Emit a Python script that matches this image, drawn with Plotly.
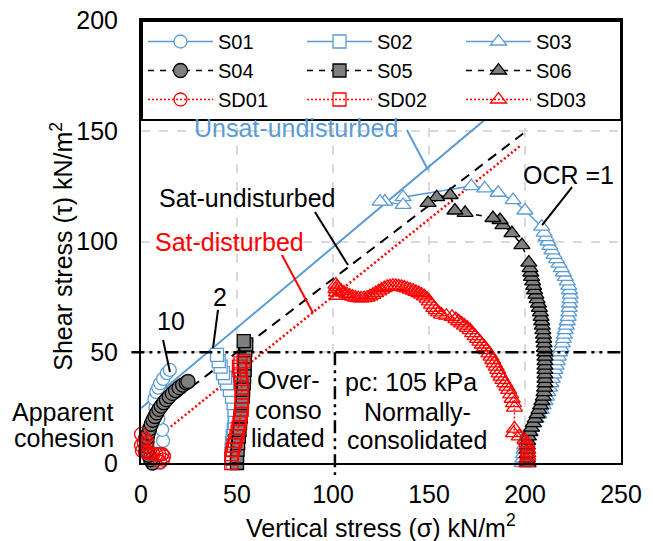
import plotly.graph_objects as go

FONT = "Liberation Sans, Arial, sans-serif"
BLUE = "#5B9BD5"
RED = "#FF0000"
GREY = "#7F7F7F"

# ---------------- data (sigma = vertical stress, tau = shear stress) ----------------
s01_x = [10, 11, 11.5, 11, 9, 7.5, 7, 8, 9, 10, 11.5, 13.5, 15]
s01_y = [0, 4, 10, 15, 20, 25, 29, 32, 34, 36, 38, 40.6, 42]

s02_x = [48, 47.5, 47.2, 47.4, 47.8, 48.3, 48.8, 49, 48.7, 48.2, 47.4, 46.3, 44.8, 43.8, 42.7, 41.5, 40.5, 39.6]
s02_y = [0, 3, 6, 9, 12, 15, 18, 21, 24, 27, 30, 33, 36, 38.5, 40.6, 43.5, 46, 48.8]

s03_x = [198.5, 198.8, 199.2, 199.5, 199.8, 200.3, 201, 202, 203.2, 204.5,
         205.8, 207.2, 208.5, 209.5, 210.4, 211.2, 211.9, 212.7, 213.5, 214.2,
         215, 215.6, 216.2, 216.8, 217.4, 218, 218.8, 219.5, 220, 220.5,
         221, 221.5, 222, 222.5, 222.8, 223, 223.2, 223.4, 223.5, 223.2,
         222.8, 222, 221, 220, 218.9, 217.7, 216.4, 215.1, 214, 213,
         212, 211, 210, 208.7,
         200, 193.8, 186, 179, 172, 136.5, 136.5, 127, 124.5]
s03_y = [0, 2, 4, 6, 8, 10, 12, 14, 16, 18,
         20, 22, 24, 26, 28, 30, 32, 34, 36, 38,
         40, 42, 44, 46, 48, 50, 52, 54, 56, 58,
         60, 62, 64, 66, 68, 70, 72, 74, 76, 78,
         80, 82, 84, 86, 88, 90, 92, 94, 96, 98,
         100, 102, 104, 106.7,
         114, 118.7, 122, 124, 125, 120, 116.5, 118, 118]

s04_x = [6, 5, 4, 3.2, 3, 3, 3.3, 3.8, 4.5, 5.3, 6.2, 7.2, 8.2, 9.3, 10.5, 11.8,
         13.2, 14.7, 16.3, 18, 19.8, 21.7, 23.5, 24.5]
s04_y = [0, 1.5, 3.5, 5.5, 7.5, 9.5, 11.5, 13.5, 15.5, 17.5, 19.3, 21, 22.6, 24.2,
         25.7, 27.2, 28.6, 30, 31.4, 32.7, 34, 35.2, 36.2, 36.8]

s05_x = [50, 50, 50.3, 50.6, 51, 51.3, 51.6, 52, 52.3, 52.6, 53, 53.2, 53.5, 53.7,
         54, 54, 54, 54.3, 54.8, 53.5]
s05_y = [0, 3, 6, 9, 12, 15, 18, 21, 24, 27, 30, 33, 36, 39, 42, 45, 48, 51, 53.5, 55]

s06_x = [201.6, 201.2, 201, 201, 201.2, 201.4, 201.8, 202.6, 203.4, 204.3,
         205.3, 206.3, 207.3, 208.1, 208.8, 209.5, 209.9, 210.2, 210.4, 210.4,
         210.4, 210.4, 210.4, 210.4, 210.4, 210.3, 210.1, 210, 209.8, 209.6,
         209.3, 209, 208.7, 208.4, 208, 207.5, 207, 206.3, 205.7, 205,
         204.5, 204, 203.4, 203, 202.6, 202,
         198.4, 193.2, 188.5, 187, 183.3, 168.8, 163.5, 161, 154, 149.5]
s06_y = [0, 2, 4, 6, 8, 10, 12, 14, 16, 18,
         20, 22, 24, 26, 28, 30, 32, 34, 36, 38,
         40, 42, 44, 46, 48, 50, 52, 54, 56, 58,
         60, 62, 64, 66, 68, 70, 72, 74, 76, 78,
         80, 82, 84, 86, 88, 90.5,
         98.4, 103.8, 107.4, 109.7, 110.6, 112.9, 114, 121, 120, 117.4]

sd01_x = [10, 11.5, 12, 11, 9.5, 8, 6.5, 5, 3.5, 2, 0.5, -0.5, 0, 1.5, 3.5, 2, 0]
sd01_y = [0.5, 1.5, 3, 4, 4, 4, 4, 4.2, 4.5, 5, 5.5, 6.5, 8, 9, 9.5, 11, 13]

sd02_x = [47, 47, 47.3, 47.8, 48.3, 49, 49.7, 50.3, 50.8, 51.3, 51.7, 52, 52.3,
          52.5, 52.5, 52.5, 52.5, 52.5, 52.3, 52, 51.7, 51.3, 51, 51.8, 53.5]
sd02_y = [0, 2, 4, 6, 8, 10, 12, 14, 16, 18, 20, 22, 24, 26, 28, 30, 32, 34, 36,
          38, 40, 42, 43.5, 45, 46]

sd03_x = [201, 201, 201.5, 201.5, 201.5, 201, 201, 200, 197, 194, 194.5,
          194.5, 194, 193.3, 192.5, 191.5, 190.6, 189.5, 188.5, 187.5, 186.5,
          185.8, 185, 184, 183.2, 182.3, 181.2, 180, 179, 177.8, 176.5,
          175.3, 174, 172.7, 171.4, 170, 168.5, 167, 165.5, 164, 162,
          159, 156.5, 155, 153.8, 152.5, 151.3, 150.2, 149, 147.6, 146.2,
          144.7, 143.2, 141.7, 140.2, 138.7, 137.2, 135.7, 134.2, 132.7, 131.2,
          129.7, 128.2, 126.7, 125.2, 123.7, 122.2, 120.7, 119.2, 117.7, 116.2,
          114.7, 113.2, 111.7, 110.2, 108.7, 107.2, 105.7, 104.2, 103, 102,
          101.5, 101.5, 101.8, 102.3]
sd03_y = [0, 1.5, 3, 4.5, 6, 7.5, 9, 10.5, 12, 13.5, 15.5,
          25, 27, 29, 31, 33, 34.5, 36, 37.5, 39, 40.5,
          42, 43.5, 45, 46.5, 48, 49.5, 51, 52.3, 53.5, 54.8,
          56, 57.3, 58.6, 60, 61, 62, 63, 64, 65, 66,
          66.5, 67, 68, 69, 70, 71.5, 73, 74.2, 75.2, 76,
          76.7, 77.3, 77.8, 78.3, 78.8, 79.2, 79.5, 79.8, 80, 80,
          79.8, 79.5, 79, 78.3, 77.5, 76.7, 75.9, 75.2, 74.7, 74.4,
          74.3, 74.4, 74.7, 75.1, 75.6, 76.2, 76.9, 77.7, 78.6, 79.5,
          80.5, 78.5, 77, 75.5]

# failure envelopes (end points)
unsat_x = [0, 200]
unsat_y = [24.7, 170.2]
satund_x = [5, 200]
satund_y = [20.2, 149.4]
satdis_x = [10, 198]
satdis_y = [12.6, 143.5]

x_ticks = [0, 50, 100, 150, 200, 250]
y_ticks = [0, 50, 100, 150, 200]

# ---------------- figure ----------------
fig = go.Figure()

env_specs = [
    (unsat_x, unsat_y, dict(color=BLUE, width=2)),
    (satund_x, satund_y, dict(color="black", width=2, dash="10px,7px")),
    (satdis_x, satdis_y, dict(color=RED, width=2.5, dash="2px,2.5px")),
]
for ex, ey, ln in env_specs:
    fig.add_trace(go.Scatter(x=ex, y=ey, mode="lines", line=ln,
                             showlegend=False, hoverinfo="skip"))

series = [
    ("S01", s01_x, s01_y, "circle", BLUE, "white", BLUE, None, 13),
    ("S02", s02_x, s02_y, "square", BLUE, "white", BLUE, None, 13),
    ("S03", s03_x, s03_y, "triangle-up", BLUE, "white", BLUE, None, 14),
    ("S04", s04_x, s04_y, "circle", "black", GREY, "black", "6px,6px", 14),
    ("S05", s05_x, s05_y, "square", "black", GREY, "black", "6px,6px", 13),
    ("S06", s06_x, s06_y, "triangle-up", "black", GREY, "black", "6px,6px", 14),
    ("SD01", sd01_x, sd01_y, "circle-open", RED, RED, RED, "2px,2px", 13),
    ("SD02", sd02_x, sd02_y, "square-open", RED, RED, RED, "2px,2px", 13),
    ("SD03", sd03_x, sd03_y, "triangle-up-open", RED, RED, RED, "2px,2px", 14),
]
for name, sx, sy, sym, lc, fc, mc, dash, size in series:
    fig.add_trace(go.Scatter(
        x=sx, y=sy, name=name, mode="lines+markers",
        line=dict(color=lc, width=1.5, dash=dash),
        marker=dict(symbol=sym, size=size, color=fc,
                    line=dict(color=mc, width=1.3)),
        cliponaxis=False,
    ))

# ---------------- shapes ----------------
DASHDOT = "13px,5px,3px,5px,3px,5px"
shapes = [
    # white box behind the normally-consolidated text (hides grid only)
    dict(type="rect", xref="x", yref="y", x0=95, x1=175, y0=1, y1=48,
         fillcolor="white", line=dict(width=0), layer="between"),
    # pc lines
    dict(type="line", xref="paper", yref="y", x0=-0.02, x1=1, y0=50, y1=50,
         line=dict(color="black", width=2.5, dash=DASHDOT)),
    dict(type="line", xref="x", yref="paper", x0=101, x1=101, y0=0.25, y1=-0.027,
         line=dict(color="black", width=2.5, dash=DASHDOT)),
]
# leader lines: (x0, y0, x1, y1, colour)
leaders = [
    (11.5, 55.5, 15.1, 41.1, "black"),
    (40.1, 69.1, 37.5, 51.9, "black"),
    (138.5, 150.3, 149.5, 132.3, BLUE),
    (90.6, 113.3, 107.8, 89.4, "black"),
    (73.4, 93.9, 89.6, 67.7, RED),
    (224.5, 124.6, 208.9, 107.4, "black"),
]
for x0, y0, x1, y1, c in leaders:
    shapes.append(dict(type="line", xref="x", yref="y", x0=x0, y0=y0, x1=x1, y1=y1,
                       line=dict(color=c, width=2)))
fig.update_layout(shapes=shapes)

# ---------------- annotations ----------------
def txt(x, y, text, color="black", size=25, xanchor="center", xref="x", yref="y"):
    return dict(x=x, y=y, xref=xref, yref=yref, text=text, showarrow=False,
                xanchor=xanchor, yanchor="middle",
                font=dict(family=FONT, size=size, color=color))

annos = [
    txt(15.4, 64.1, "10"),
    txt(41.1, 75, "2"),
    txt(80.7, 151.2, "Unsat-undisturbed", BLUE),
    txt(55.7, 119.6, "Sat-undisturbed"),
    txt(46.1, 99.8, "Sat-disturbed", RED),
    txt(222.4, 130, "OCR =1"),
    txt(76.6, 37.5, "Over-"),
    txt(76.6, 23.9, "conso"),
    txt(76.6, 11.3, "lidated"),
    txt(140.4, 36.6, "pc: 105 kPa"),
    txt(144, 23, "Normally-"),
    txt(144, 10.4, "consolidated"),
    txt(-0.052, 23, "Apparent", xanchor="right", xref="paper"),
    txt(-0.052, 11.3, "cohesion", xanchor="right", xref="paper"),
    # axis titles
    dict(x=0.5, y=-0.143, xref="paper", yref="paper", showarrow=False,
         text="Vertical stress (σ) kN/m<sup>2</sup>", xanchor="center", yanchor="middle",
         font=dict(family=FONT, size=25, color="black")),
    dict(x=-0.165, y=0.49, xref="paper", yref="paper", showarrow=False, textangle=-90,
         text="Shear stress (τ) kN/m<sup>2</sup>", xanchor="center", yanchor="middle",
         font=dict(family=FONT, size=25, color="black")),
    # apparent cohesion double arrow
    dict(x=-7.3, y=26.6, ax=-7.3, ay=-2.3, xref="x", yref="y", axref="x", ayref="y",
         text="", showarrow=True, arrowside="end+start", arrowhead=2, startarrowhead=2,
         arrowsize=1.5, startarrowsize=1.5, arrowwidth=2, arrowcolor="black"),
]
fig.update_layout(annotations=annos)

axis_common = dict(
    showline=True, linecolor="black", linewidth=2, mirror=True,
    showgrid=True, gridcolor="#D9D9D9", gridwidth=2, griddash="dash",
    zeroline=False, ticks="",
    tickfont=dict(family=FONT, size=25, color="black"),
)
fig.update_xaxes(range=[0, 250], tickvals=x_ticks, ticklabelstandoff=8, **axis_common)
fig.update_yaxes(range=[0, 200], tickvals=y_ticks, ticklabelstandoff=16, **axis_common)

fig.update_layout(
    width=653, height=541,
    margin=dict(l=141, r=32, t=20, b=78, autoexpand=False),
    paper_bgcolor="white", plot_bgcolor="white",
    font=dict(family=FONT, size=25, color="black"),
    showlegend=True,
    legend=dict(
        orientation="h", x=0, y=1, xanchor="left", yanchor="top",
        bgcolor="white", bordercolor="black", borderwidth=2,
        font=dict(family=FONT, size=20, color="black"),
        entrywidth=79, entrywidthmode="pixels", itemwidth=65,
        traceorder="normal",
    ),
)

fig.write_html("out.html")
